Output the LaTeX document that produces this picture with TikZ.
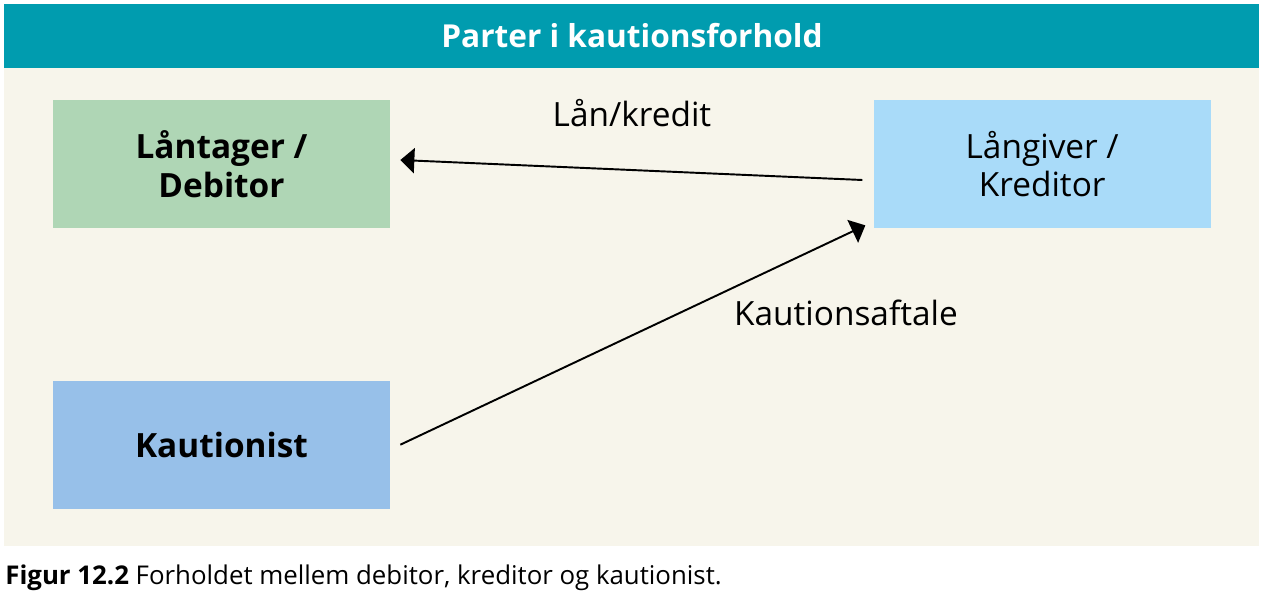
\documentclass[tikz,border=0pt]{standalone}
\usepackage{fontspec}
\setmainfont{Open Sans}
\usepackage{xcolor}
\usetikzlibrary{calc,positioning,arrows.meta}
\definecolor{headteal}{HTML}{009CAF}
\definecolor{panelbeige}{HTML}{F7F5EB}
\definecolor{debgreen}{HTML}{AFD6B5}
\definecolor{kredblue}{HTML}{A9DBF9}
\definecolor{kautblue}{HTML}{97C0E9}
\tikzset{
  line/.style={-{Triangle[length=2.8mm, width=5mm]}, line width=1.1pt},
  box/.style={align=center, inner sep=3pt, font=\fontsize{19}{22}\selectfont},
  partybox/.style={box, minimum width=67.4mm, minimum height=25.6mm},
  lbl/.style={font=\fontsize{19}{22}\selectfont}
}
\begin{document}
\begin{tikzpicture}[node distance=30.4mm and 96.6mm]
  \useasboundingbox[fill=white] (0,0) rectangle (25.3,-12.04);
  \fill[panelbeige] (0.08,-1.36) rectangle (25.18,-10.92);
  \fill[headteal] (0.08,-0.08) rectangle (25.18,-1.36);
  \node[font=\fontsize{18}{22}\selectfont\bfseries, text=white] (title) at (12.64,-0.72) {Parter i kautionsforhold};

  \node[partybox, fill=debgreen, font=\fontsize{19}{22}\selectfont\bfseries] (deb) at (4.43,-3.28) {Låntager /\\Debitor};
  \node[partybox, fill=kredblue, right=of deb] (kred) {Långiver /\\Kreditor};
  \node[partybox, fill=kautblue, font=\fontsize{19}{22}\selectfont\bfseries, below=of deb] (kaut) {Kautionist};

  \node[lbl] (kredit) at (12.64,-2.26) {Lån/kredit};
  \node[lbl] (aftale) at (16.92,-6.26) {Kautionsaftale};

  \draw[line] ($(kred.west)+(-0.22,-0.32)$) -- ($(deb.east)+(0.2,0.08)$);
  \draw[line] ($(kaut.east)+(0.2,0)$) -- ($(kred.south west)+(-0.16,0.06)$);

  \node[anchor=west, inner sep=0pt, font=\fontsize{14.7}{18}\selectfont] (caption) at (0.1,-11.56) {\textbf{Figur 12.2} Forholdet mellem debitor, kreditor og kautionist.};
\end{tikzpicture}
\end{document}
